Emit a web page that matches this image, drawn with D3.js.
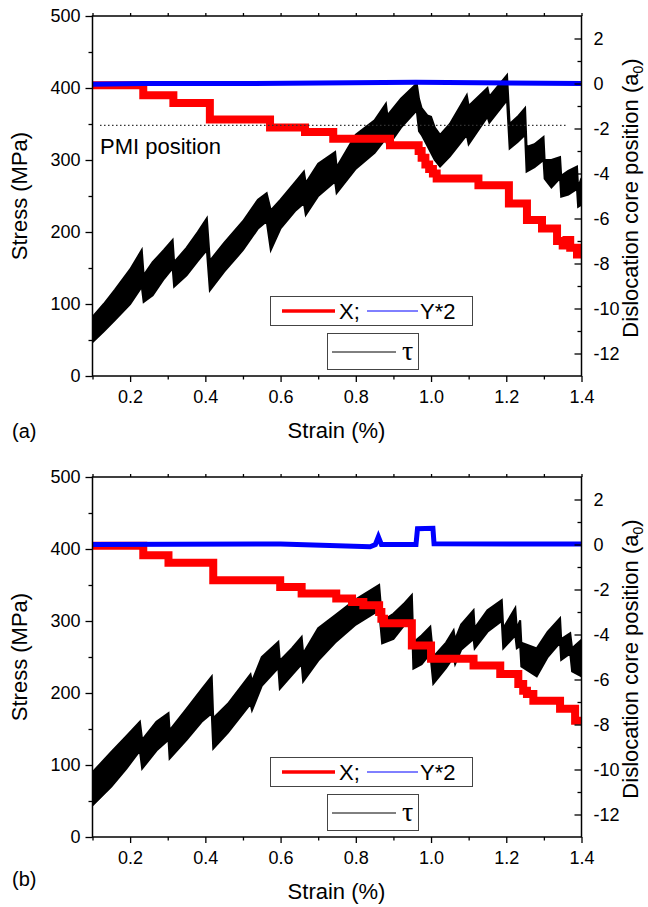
<!DOCTYPE html>
<html>
<head>
<meta charset="utf-8">
<script src="https://cdn.jsdelivr.net/npm/d3@7"></script>
<style>
  body { margin: 0; background: #fff; }
  svg { display: block; font-family: "Liberation Sans", Arial, sans-serif; }
</style>
</head>
<body>
<div id="chart"></div>
<script>
// Axis ticks
const strainTicks = [0.2, 0.4, 0.6, 0.8, 1.0, 1.2, 1.4];
const strainMinor = [0.1, 0.3, 0.5, 0.7, 0.9, 1.1, 1.3];
const stressTicks = [0, 100, 200, 300, 400, 500];
const stressMinor = [50, 150, 250, 350, 450];
const posTicks = [-12, -10, -8, -6, -4, -2, 0, 2];
const posMinor = [-11, -9, -7, -5, -3, -1, 1];

// PMI position (panel a only)
const pmiStress = 348;
const pmiStrain = [0.12, 1.362];

// Panel (a): shear stress tau, band low / high (MPa)
const tauA_strain = [0.100, 0.130, 0.160, 0.200, 0.231, 0.236, 0.260, 0.290, 0.313, 0.317, 0.350, 0.380, 0.404, 0.412,
  0.450, 0.500, 0.540, 0.563, 0.574, 0.600, 0.640, 0.662, 0.667, 0.700, 0.745, 0.749, 0.800, 0.850, 0.880, 0.884,
  0.920, 0.962, 0.968, 0.975, 0.990, 1.000, 1.010, 1.024, 1.050, 1.095, 1.100, 1.150, 1.155, 1.202, 1.209, 1.230, 1.250,
  1.254, 1.275, 1.299, 1.302, 1.320, 1.343, 1.346, 1.365, 1.388, 1.391, 1.400];
const tauA_lo = [47, 62, 78, 100, 124, 103, 112, 135, 150, 124, 140, 160, 175, 119,
  145, 175, 205, 215, 175, 205, 230, 240, 224, 250, 270, 254, 288, 310, 330, 318,
  345, 369, 340, 335, 320, 310, 300, 291, 305, 335, 322, 360, 352, 383, 316, 325, 335,
  284, 290, 300, 274, 262, 275, 249, 252, 260, 235, 238];
const tauA_hi = [82, 100, 120, 148, 175, 140, 158, 175, 189, 158, 178, 200, 219, 160,
  185, 215, 245, 254, 230, 245, 270, 284, 268, 295, 311, 290, 335, 355, 378, 362,
  385, 406, 385, 372, 362, 360, 345, 335, 350, 390, 375, 400, 388, 418, 350, 360, 372,
  318, 322, 332, 300, 300, 304, 278, 285, 291, 262, 275];

// Panel (a): X (red, steps) and Y*2 (blue), in a0
const xA_strain = [0.100, 0.235, 0.315, 0.412, 0.572, 0.665, 0.740, 0.891, 0.967, 0.975, 0.985, 0.995, 1.005, 1.015,
  1.126, 1.207, 1.255, 1.295, 1.335, 1.350, 1.360, 1.370, 1.388, 1.400];
const xA_pos = [-0.08, -0.52, -0.87, -1.6, -1.95, -2.15, -2.45, -2.74, -3.0, -3.3, -3.6, -3.8, -4.0, -4.22,
  -4.52, -5.33, -6.07, -6.44, -7.0, -7.2, -6.95, -7.3, -7.6, -7.7];
const yA_strain = [0.100, 0.235, 0.500, 0.960, 1.400];
const yA_pos = [-0.03, 0.0, 0.0, 0.06, 0.0];

// Panel (b): shear stress tau, band low / high (MPa)
const tauB_strain = [0.100, 0.150, 0.190, 0.226, 0.232, 0.270, 0.302, 0.305, 0.350, 0.390, 0.417, 0.421, 0.460, 0.520,
  0.524, 0.550, 0.594, 0.598, 0.630, 0.656, 0.660, 0.700, 0.745, 0.800, 0.862, 0.870, 0.900, 0.930, 0.949, 0.953, 0.975,
  0.998, 1.006, 1.040, 1.060, 1.064, 1.080, 1.113, 1.116, 1.150, 1.188, 1.192, 1.224, 1.228, 1.237, 1.240, 1.281, 1.310, 1.343,
  1.346, 1.370, 1.375, 1.400];
const tauB_lo = [44, 70, 95, 120, 95, 120, 135, 109, 135, 160, 172, 123, 145, 185,
  176, 210, 235, 206, 225, 240, 216, 245, 270, 295, 315, 269, 275, 295, 305, 234, 240,
  255, 213, 235, 250, 240, 260, 275, 262, 285, 300, 262, 280, 262, 265, 237, 223, 250, 270,
  246, 255, 230, 223];
const tauB_hi = [90, 118, 140, 160, 135, 160, 172, 148, 178, 205, 223, 165, 185, 226,
  216, 250, 271, 245, 262, 278, 255, 290, 308, 330, 350, 300, 310, 325, 336, 270, 280,
  292, 250, 270, 287, 274, 295, 315, 290, 315, 329, 290, 318, 290, 301, 270, 262, 285, 304,
  275, 283, 262, 274];

// Panel (b): X (red, steps) and Y*2 (blue), in a0
const xB_strain = [0.100, 0.235, 0.302, 0.421, 0.599, 0.656, 0.748, 0.790, 0.820, 0.862, 0.868, 0.875, 0.949, 1.000,
  1.113, 1.184, 1.232, 1.245, 1.255, 1.272, 1.343, 1.383, 1.400];
const xB_pos = [-0.06, -0.48, -0.81, -1.59, -1.89, -2.18, -2.4, -2.56, -2.7, -3.0, -3.3, -3.5, -4.49, -5.08,
  -5.38, -5.75, -6.2, -6.5, -6.64, -6.94, -7.3, -7.83, -7.9];
const yB_strain = [0.100, 0.600, 0.838, 0.852, 0.860, 0.868, 0.960, 0.964, 1.005, 1.008, 1.400];
const yB_pos = [0.0, 0.02, -0.1, 0.0, 0.34, 0.0, 0.0, 0.7, 0.72, 0.03, 0.02];

const W = 648, H = 907;
const svg = d3.select('#chart').append('svg')
  .attr('width', W)
  .attr('height', H);

const left = 92.5, right = 581.5;

function drawPanel(p) {
  const top = p.top, bottom = p.top + 360;
  const off = p.top - 16; // shift of this panel vs. the first one

  const x = d3.scaleLinear().domain([0.1, 1.4]).range([left, right]);
  const yL = d3.scaleLinear().domain([0, 500]).range([bottom, top]);
  const yR = d3.scaleLinear().domain([-13, 3]).range([bottom, top]);

  const g = svg.append('g');

  g.append('clipPath').attr('id', 'clip' + p.id)
    .append('rect')
    .attr('x', left).attr('y', top)
    .attr('width', right - left).attr('height', bottom - top);

  const plot = g.append('g').attr('clip-path', `url(#clip${p.id})`);

  // tau band
  const tau = p.tauStrain.map((s, i) => ({ s, lo: p.tauLo[i], hi: p.tauHi[i] }));
  plot.append('path')
    .datum(tau)
    .attr('d', d3.area().x(d => x(d.s)).y0(d => yL(d.lo)).y1(d => yL(d.hi)))
    .attr('fill', '#000')
    .attr('stroke', '#000')
    .attr('stroke-width', 2)
    .attr('stroke-linejoin', 'miter');

  // X (red steps)
  const xs = p.xStrain.map((s, i) => [s, p.xPos[i]]);
  plot.append('path')
    .datum(xs)
    .attr('d', d3.line().x(d => x(d[0])).y(d => yR(d[1])).curve(d3.curveStepAfter))
    .attr('fill', 'none')
    .attr('stroke', '#ff0000')
    .attr('stroke-width', 8);

  // Y*2 (blue)
  const ys = p.yStrain.map((s, i) => [s, p.yPos[i]]);
  plot.append('path')
    .datum(ys)
    .attr('d', d3.line().x(d => x(d[0])).y(d => yR(d[1])))
    .attr('fill', 'none')
    .attr('stroke', '#0000ff')
    .attr('stroke-width', 5);

  // PMI position
  if (p.pmi) {
    g.append('line')
      .attr('x1', x(pmiStrain[0])).attr('x2', x(pmiStrain[1]))
      .attr('y1', yL(pmiStress)).attr('y2', yL(pmiStress))
      .attr('stroke', '#333')
      .attr('stroke-width', 1.2)
      .attr('stroke-dasharray', '1.5,2.5');
    g.append('text')
      .attr('x', 100).attr('y', 154 + off)
      .style('font-size', '22px')
      .text('PMI position');
  }

  // legends
  const lg = g.append('g').attr('transform', `translate(0,${off})`);
  lg.append('rect')
    .attr('x', 270.5).attr('y', 296.5).attr('width', 202).attr('height', 29)
    .attr('fill', '#fff').attr('stroke', '#444').attr('stroke-width', 1);
  lg.append('line')
    .attr('x1', 282).attr('x2', 335).attr('y1', 311).attr('y2', 311)
    .attr('stroke', '#ff0000').attr('stroke-width', 3.5);
  lg.append('text').attr('x', 339).attr('y', 318.5).style('font-size', '22px').text('X;');
  lg.append('line')
    .attr('x1', 367).attr('x2', 418).attr('y1', 311).attr('y2', 311)
    .attr('stroke', '#0000ff').attr('stroke-width', 1);
  lg.append('text').attr('x', 420).attr('y', 318.5).style('font-size', '22px').text('Y*2');

  lg.append('rect')
    .attr('x', 327.5).attr('y', 333.5).attr('width', 91).attr('height', 36)
    .attr('fill', '#fff').attr('stroke', '#444').attr('stroke-width', 1);
  lg.append('line')
    .attr('x1', 332).attr('x2', 396).attr('y1', 352).attr('y2', 352)
    .attr('stroke', '#000').attr('stroke-width', 1);
  lg.append('text').attr('x', 402).attr('y', 360)
    .style('font-family', '"Liberation Serif", "DejaVu Serif", serif')
    .style('font-size', '28px').text('τ');

  // axes
  const axStyle = sel => {
    sel.select('.domain').remove();
    sel.selectAll('line').attr('stroke', '#000').attr('stroke-width', 1.3);
    sel.selectAll('text').style('font-size', '18px').attr('fill', '#000')
      .style('font-family', '"Liberation Sans", Arial, sans-serif');
  };

  g.append('g').attr('transform', `translate(0,${bottom})`)
    .call(d3.axisBottom(x).tickValues(strainTicks).tickSize(6).tickPadding(8).tickFormat(d3.format('.1f')))
    .call(axStyle);
  g.append('g').attr('transform', `translate(0,${bottom})`)
    .call(d3.axisBottom(x).tickValues(strainMinor).tickSize(3.5).tickFormat(''))
    .call(axStyle);
  g.append('g').attr('transform', `translate(0,${top})`)
    .call(d3.axisTop(x).tickValues(strainTicks.concat(strainMinor)).tickSize(3).tickFormat(''))
    .call(axStyle);

  g.append('g').attr('transform', `translate(${left},0)`)
    .call(d3.axisLeft(yL).tickValues(stressTicks).tickSize(7).tickPadding(5))
    .call(axStyle);
  g.append('g').attr('transform', `translate(${left},0)`)
    .call(d3.axisLeft(yL).tickValues(stressMinor).tickSize(4).tickFormat(''))
    .call(axStyle);

  const rAx = g.append('g').attr('transform', `translate(${right},0)`)
    .call(d3.axisRight(yR).tickValues(posTicks).tickSize(-7).tickPadding(12).tickFormat(d3.format('d')))
    .call(axStyle);
  rAx.selectAll('text').text(d => d < 0 ? '-' + Math.abs(d) : d);
  g.append('g').attr('transform', `translate(${right},0)`)
    .call(d3.axisRight(yR).tickValues(posMinor).tickSize(-4).tickFormat(''))
    .call(axStyle);

  // frame
  g.append('rect')
    .attr('x', left).attr('y', top)
    .attr('width', right - left).attr('height', bottom - top)
    .attr('fill', 'none').attr('stroke', '#000').attr('stroke-width', 1.5);

  // titles
  g.append('text')
    .attr('x', (left + right) / 2 - 0.5).attr('y', 438 + off)
    .attr('text-anchor', 'middle')
    .style('font-size', '22px')
    .text('Strain (%)');
  g.append('text')
    .attr('transform', `translate(27,${(top + bottom) / 2}) rotate(-90)`)
    .attr('text-anchor', 'middle')
    .style('font-size', '22px')
    .text('Stress (MPa)');
  const rt = g.append('text')
    .attr('transform', `translate(638,${(top + bottom) / 2 + 2}) rotate(-90)`)
    .attr('text-anchor', 'middle')
    .style('font-size', '22px');
  rt.append('tspan').text('Dislocation core position (a');
  rt.append('tspan').attr('dy', 5).style('font-size', '14px').text('0');
  rt.append('tspan').attr('dy', -5).text(')');

  g.append('text')
    .attr('x', 12).attr('y', p.labelY)
    .style('font-size', '20px')
    .text(p.label);
}

drawPanel({
  id: 'a', top: 16, label: '(a)', labelY: 437.5, pmi: true,
  tauStrain: tauA_strain, tauLo: tauA_lo, tauHi: tauA_hi,
  xStrain: xA_strain, xPos: xA_pos, yStrain: yA_strain, yPos: yA_pos
});
drawPanel({
  id: 'b', top: 477, label: '(b)', labelY: 886, pmi: false,
  tauStrain: tauB_strain, tauLo: tauB_lo, tauHi: tauB_hi,
  xStrain: xB_strain, xPos: xB_pos, yStrain: yB_strain, yPos: yB_pos
});
</script>
</body>
</html>
